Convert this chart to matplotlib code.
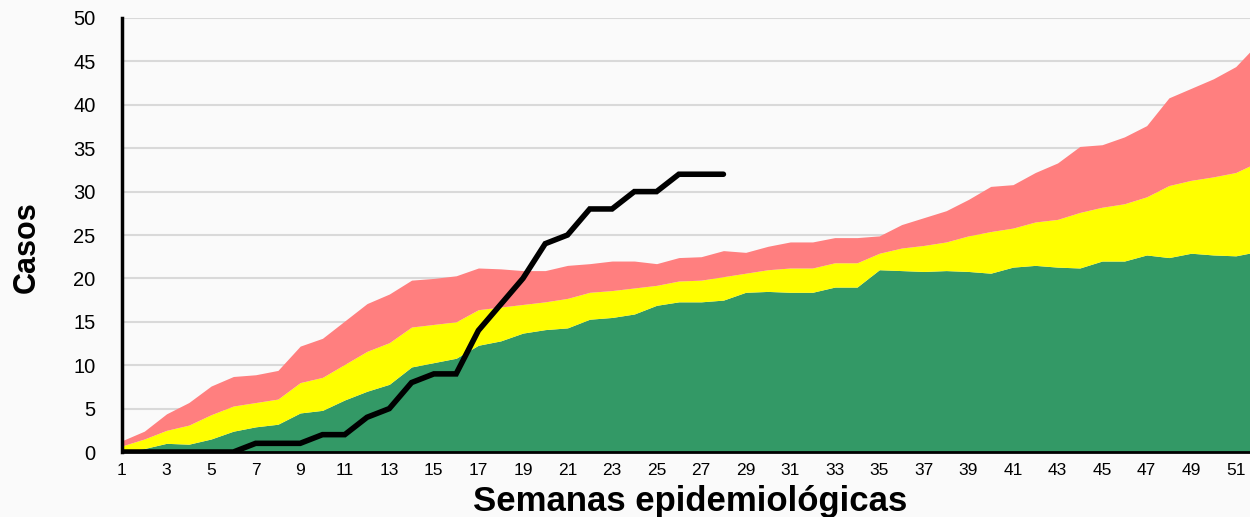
import matplotlib
matplotlib.use("Agg")
import matplotlib.pyplot as plt

plt.rcParams["font.family"] = ["Liberation Sans", "DejaVu Sans"]

# Epidemiological weeks
semanas = list(range(1, 53))

# Endemic channel boundaries (cumulative levels)
zona_exito = [0.0, 0.4, 1.0, 0.9, 1.5, 2.4, 2.9, 3.2, 4.5, 4.8,
              6.0, 7.0, 7.8, 9.8, 10.3, 10.8, 12.3, 12.8, 13.7, 14.1,
              14.3, 15.3, 15.5, 15.9, 16.9, 17.3, 17.3, 17.5, 18.4, 18.5,
              18.4, 18.4, 19.0, 19.0, 21.0, 20.9, 20.8, 20.9, 20.8, 20.6,
              21.3, 21.5, 21.3, 21.2, 22.0, 22.0, 22.7, 22.4, 22.9, 22.7,
              22.6, 23.1]
zona_seguridad = [0.7, 1.5, 2.5, 3.1, 4.3, 5.3, 5.7, 6.1, 8.0, 8.6,
                  10.1, 11.6, 12.6, 14.4, 14.7, 15.0, 16.4, 16.7, 17.0, 17.3,
                  17.7, 18.4, 18.6, 18.9, 19.2, 19.7, 19.8, 20.2, 20.6, 21.0,
                  21.2, 21.2, 21.8, 21.8, 22.9, 23.5, 23.8, 24.2, 24.9, 25.4,
                  25.8, 26.5, 26.8, 27.6, 28.2, 28.6, 29.4, 30.7, 31.3, 31.7,
                  32.2, 33.4]
zona_alarma = [1.3, 2.4, 4.4, 5.7, 7.6, 8.7, 8.9, 9.4, 12.2, 13.1,
               15.1, 17.1, 18.2, 19.8, 20.0, 20.3, 21.2, 21.1, 20.9, 20.9,
               21.5, 21.7, 22.0, 22.0, 21.7, 22.4, 22.5, 23.2, 23.0, 23.7,
               24.2, 24.2, 24.7, 24.7, 24.9, 26.2, 27.0, 27.8, 29.1, 30.6,
               30.8, 32.2, 33.3, 35.2, 35.4, 36.3, 37.6, 40.8, 41.9, 43.0,
               44.4, 47.1]

# Cumulative cases of the current year (weeks 1-28)
semanas_casos = list(range(1, 29))
casos = [0, 0, 0, 0, 0, 0, 1, 1, 1, 2,
         2, 4, 5, 8, 9, 9, 14, 17, 20, 24,
         25, 28, 28, 30, 30, 32, 32, 32]

xticks = list(range(1, 52, 2))
yticks = list(range(0, 51, 5))

fig = plt.figure(figsize=(12.5, 5.17), dpi=100)
fig.patch.set_facecolor("#fafafa")
ax = fig.add_axes([0.0976, 0.1257, 0.9024, 0.8395])
ax.set_facecolor("#fafafa")

ax.fill_between(semanas, 0, zona_exito, color="#339966", linewidth=0, zorder=2)
ax.fill_between(semanas, zona_exito, zona_seguridad, color="#ffff00", linewidth=0, zorder=2)
ax.fill_between(semanas, zona_seguridad, zona_alarma, color="#ff7f7f", linewidth=0, zorder=2)
ax.plot(semanas_casos, casos, color="black", linewidth=4.0,
        solid_capstyle="round", solid_joinstyle="miter", zorder=4)

ax.set_xlim(1, 51.64)
ax.set_ylim(0, 50)
ax.set_xticks(xticks)
ax.set_yticks(yticks)
ax.tick_params(axis="x", length=0, labelsize=12.5, pad=8)
ax.tick_params(axis="y", length=0, labelsize=14.5, pad=19)
ax.grid(axis="y", color="#d9d9d9", linewidth=1.5, zorder=1)
ax.set_axisbelow(True)

for side in ["top", "right"]:
    ax.spines[side].set_visible(False)
ax.spines["left"].set_linewidth(2.5)
ax.spines["bottom"].set_linewidth(2)
ax.spines["left"].set_zorder(5)
ax.spines["bottom"].set_zorder(5)

ax.set_xlabel("Semanas epidemiológicas", fontsize=25, fontweight="bold")
ax.xaxis.set_label_coords(0.5035, -0.077)
ax.set_ylabel("Casos", fontsize=22, fontweight="bold")
ax.yaxis.set_label_coords(-0.071, 0.472)

fig.savefig("out.png", dpi=100, facecolor=fig.get_facecolor())
